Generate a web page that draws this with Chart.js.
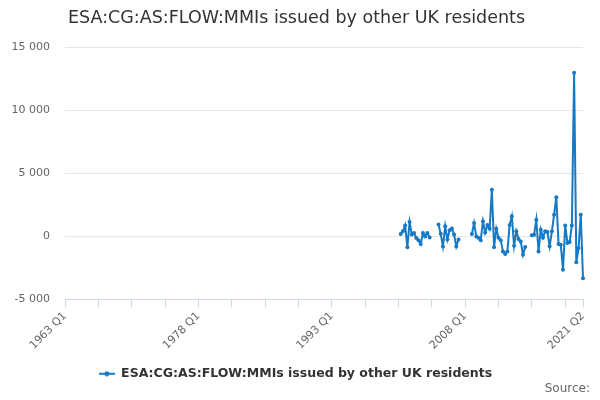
<!DOCTYPE html>
<html>
<head>
<meta charset="utf-8">
<script src="https://cdn.jsdelivr.net/npm/chart.js@4"></script>
<style>
  html, body { margin: 0; padding: 0; background: #fff; }
  #wrap { width: 600px; height: 400px; position: relative; }
</style>
</head>
<body>
<div id="wrap"><canvas id="chart1"></canvas></div>
<script>
var titleText = 'ESA:CG:AS:FLOW:MMIs issued by other UK residents';
var seriesName = 'ESA:CG:AS:FLOW:MMIs issued by other UK residents';
var sourceText = 'Source:';

// quarters 1963 Q1 .. 2021 Q2
var firstYear = 1963;
var lastYear = 2021, lastQuarter = 2;
var categories = [];
for (var y = firstYear; y <= lastYear; y++) {
    for (var q = 1; q <= 4; q++) {
        if (y === lastYear && q > lastQuarter) break;
        categories.push(y + ' Q' + q);
    }
}

// values start at 2000 Q4, nothing before that
var firstValueQuarter = '2000 Q4';
var values = [
    180, 400, 870, -870, 1130, 150, 260, -130, -300, -610, 260, 0, 260, -80,
    null, null, null,
    950, 200, -800, 800, -250, 480, 630, 150, -800, -250,
    null, null, null, null, null,
    180, 1060, 0, -100, -300, 1200, 300, 900, 600, 3700, -870, 600, -100, -300,
    -1190, -1400, -1190, 900, 1600, -750, 400, -200, -400, -1450, -850,
    null, null,
    80, 130, 1320, -1190, 530, -100, 400, 340, -790, 400, 1720, 3100,
    -610, -660, -2640, 870, -530, -450, 870, 12960, -2040, -930, 1720, -3310
];

var labelQuarters = ['1963 Q1', '1978 Q1', '1993 Q1', '2008 Q1', '2021 Q2'];
var yTicks = [-5000, 0, 5000, 10000, 15000];

var startIdx = categories.indexOf(firstValueQuarter);
var seriesData = categories.map(function (c, i) {
    var k = i - startIdx;
    return (k >= 0 && k < values.length) ? values[k] : null;
});

var lineColor = '#1679c4';

// legend symbol: short line with a dot
var sym = document.createElement('canvas');
sym.width = 16; sym.height = 6;
var sctx = sym.getContext('2d');
sctx.strokeStyle = lineColor;
sctx.lineWidth = 2;
sctx.beginPath(); sctx.moveTo(0, 3); sctx.lineTo(16, 3); sctx.stroke();
sctx.fillStyle = lineColor;
sctx.beginPath(); sctx.arc(8, 3, 2.5, 0, Math.PI * 2); sctx.fill();

var textPlugin = {
    id: 'texts',
    afterDraw: function (chart) {
        var ctx = chart.ctx;
        ctx.save();
        ctx.fillStyle = '#333333';
        ctx.font = '17.5px "DejaVu Sans"';
        ctx.textBaseline = 'middle';
        ctx.textAlign = 'left';
        ctx.fillText(titleText, 68, 18);
        ctx.fillStyle = '#666666';
        ctx.font = '12px "DejaVu Sans"';
        ctx.textAlign = 'right';
        ctx.fillText(sourceText, 590, 389);
        ctx.restore();
    }
};

Chart.defaults.font.family = '"DejaVu Sans", sans-serif';
Chart.defaults.color = '#666666';

var my_ctx = document.getElementById('chart1');
var myChart1 = new Chart(my_ctx, {
    type: 'line',
    data: {
        labels: categories,
        datasets: [{
            label: seriesName,
            data: seriesData,
            borderColor: lineColor,
            backgroundColor: lineColor,
            borderWidth: 2,
            pointRadius: 2,
            pointHoverRadius: 3,
            pointBorderWidth: 0,
            tension: 0,
            spanGaps: false
        }]
    },
    options: {
        responsive: true,
        maintainAspectRatio: false,
        animation: false,
        layout: { padding: { top: 47, left: 8, right: 17, bottom: 10 } },
        scales: {
            x: {
                type: 'category',
                offset: false,
                afterBuildTicks: function (scale) {
                    scale.ticks = scale.ticks.filter(function (t) {
                        return t.value % 15 === 0 || t.value === categories.length - 1;
                    });
                },
                afterFit: function (scale) { scale.height = 61; },
                grid: {
                    drawOnChartArea: false,
                    drawTicks: true,
                    tickLength: 8,
                    tickColor: '#ccd6eb',
                    color: '#ccd6eb'
                },
                border: { display: true, color: '#ccd6eb', width: 1 },
                ticks: {
                    autoSkip: false,
                    maxRotation: 45,
                    minRotation: 45,
                    padding: 2,
                    font: { size: 11 },
                    color: '#666666',
                    callback: function (value) {
                        var lab = categories[value];
                        return labelQuarters.indexOf(lab) >= 0 ? lab : '';
                    }
                }
            },
            y: {
                min: -5000,
                max: 15000,
                afterBuildTicks: function (scale) {
                    scale.ticks = yTicks.map(function (v) { return { value: v }; });
                },
                afterFit: function (scale) { scale.width = 57; },
                grid: { color: '#e6e6e6', drawTicks: false },
                border: { display: false },
                ticks: {
                    padding: 15,
                    font: { size: 11 },
                    color: '#666666',
                    callback: function (v) {
                        return String(v).replace(/\B(?=(\d{3})+(?!\d))/g, ' ');
                    }
                }
            }
        },
        plugins: {
            legend: {
                position: 'bottom',
                labels: {
                    usePointStyle: true,
                    pointStyleWidth: 16,
                    boxWidth: 16,
                    padding: 7,
                    color: '#333333',
                    font: { size: 12.5, weight: 'bold' },
                    generateLabels: function (chart) {
                        return [{
                            text: seriesName,
                            fillStyle: lineColor,
                            strokeStyle: lineColor,
                            lineWidth: 0,
                            pointStyle: sym,
                            fontColor: '#333333',
                            datasetIndex: 0,
                            hidden: false
                        }];
                    }
                }
            },
            tooltip: { enabled: false }
        }
    },
    plugins: [textPlugin]
});
</script>
</body>
</html>
